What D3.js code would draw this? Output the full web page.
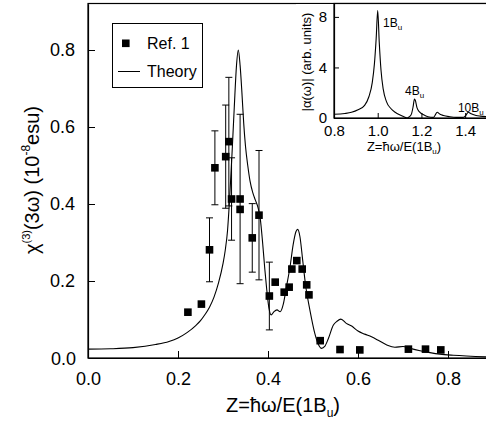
<!DOCTYPE html>
<html><head><meta charset="utf-8">
<script src="https://cdn.jsdelivr.net/npm/d3@7"></script>
<style>body{margin:0;background:#fff}svg{display:block}text{font-family:"Liberation Sans",Arial,Helvetica,sans-serif;fill:#000}</style>
</head><body>
<svg id="c" width="486" height="424"></svg>
<script>
// ---- data ----
const expX   = [0.222,0.252,0.270,0.282,0.306,0.313,0.319,0.338,0.338,0.365,0.380,0.403,0.416,0.436,0.447,0.453,0.464,0.476,0.486,0.491,0.516,0.560,0.604,0.712,0.750,0.784];
const expY   = [0.119,0.140,0.281,0.494,0.523,0.562,0.413,0.413,0.386,0.312,0.371,0.161,0.197,0.171,0.184,0.231,0.253,0.231,0.190,0.164,0.045,0.022,0.021,0.023,0.023,0.021];
const expErr = [0,0,0.083,0.096,0.134,0.167,0.107,0.22,0,0.089,0.168,0.088,0,0,0,0,0,0,0,0,0,0,0,0,0,0];
const theoryX = [0,0.05,0.10,0.15,0.18,0.20,0.22,0.24,0.25,0.26,0.27,0.28,0.29,0.30,0.305,0.31,0.315,0.32,0.325,0.33,0.334,0.338,0.342,0.346,0.350,0.355,0.360,0.366,0.372,0.378,0.383,0.388,0.393,0.397,0.402,0.407,0.413,0.420,0.427,0.434,0.441,0.449,0.456,0.462,0.466,0.471,0.477,0.484,0.493,0.504,0.512,0.519,0.526,0.534,0.545,0.553,0.562,0.574,0.586,0.600,0.615,0.630,0.645,0.664,0.682,0.700,0.716,0.738,0.760,0.782,0.812,0.841,0.884,0.92];
const theoryY = [0.023,0.024,0.027,0.035,0.043,0.052,0.066,0.085,0.097,0.113,0.132,0.158,0.195,0.245,0.28,0.33,0.42,0.53,0.65,0.76,0.80,0.76,0.69,0.61,0.55,0.50,0.46,0.43,0.41,0.39,0.36,0.30,0.23,0.18,0.13,0.112,0.12,0.125,0.12,0.14,0.185,0.237,0.295,0.328,0.334,0.315,0.255,0.185,0.125,0.064,0.035,0.025,0.03,0.05,0.085,0.095,0.101,0.09,0.083,0.07,0.062,0.055,0.046,0.034,0.028,0.030,0.025,0.019,0.014,0.010,0.007,0.005,0.003,0.002];
const insetX = [0.80,0.85,0.88,0.91,0.94,0.96,0.975,0.985,0.993,1.0,1.007,1.015,1.025,1.04,1.06,1.08,1.10,1.12,1.135,1.145,1.155,1.162,1.168,1.172,1.18,1.19,1.21,1.23,1.255,1.262,1.272,1.285,1.30,1.33,1.36,1.39,1.40,1.415,1.425,1.45,1.47,1.50];
const insetY = [0.30,0.36,0.45,0.65,1.0,1.7,2.8,4.3,6.3,8.5,6.0,3.8,2.3,1.3,0.75,0.45,0.25,0.1,0.0,0.1,0.35,0.9,1.5,1.4,0.8,0.5,0.25,0.1,0.05,0.2,0.45,0.3,0.2,0.1,0.05,0.05,0.15,0.45,0.35,0.2,0.15,0.1];
const mainXTicks = [0.0,0.2,0.4,0.6,0.8];
const mainYTicks = [0.0,0.2,0.4,0.6,0.8];
const insetXTicks = [0.8,1.0,1.2,1.4];
const insetYTicks = [0,4,8];
const legendLabels = ["Ref. 1","Theory"];
const peakLabels = [{t:"1B",x:1.024,y:7.2},{t:"4B",x:1.125,y:1.85},{t:"10B",x:1.367,y:0.5}];

const svg = d3.select("#c");
const fmt = d3.format(".1f");

// ---- main plot ----
const x = d3.scaleLinear().domain([0,0.9]).range([88,493]);
const y = d3.scaleLinear().domain([0,0.92]).range([358,3.8]);

svg.append("rect").attr("x",88).attr("y",3.5).attr("width",500).attr("height",354.5)
  .attr("fill","none").attr("stroke","#000").attr("stroke-width",1.2);

const gx = svg.append("g").attr("transform","translate(0,358)")
  .call(d3.axisBottom(x).tickValues(mainXTicks).tickFormat(fmt).tickSizeInner(-7).tickSizeOuter(0).tickPadding(14));
const gy = svg.append("g").attr("transform","translate(88,0)")
  .call(d3.axisLeft(y).tickValues(mainYTicks.slice(1)).tickFormat(fmt).tickSizeInner(-7).tickSizeOuter(0).tickPadding(13));
[gx,gy].forEach(g=>{g.select(".domain").attr("stroke","#000").attr("stroke-width",1.2);
  g.selectAll("line").attr("stroke","#000");
  g.selectAll("text").style("font-size","18px").attr("fill","#000");});
// y zero label
svg.append("text").attr("x",x(0)-12).attr("y",y(0)+7).attr("text-anchor","end").style("font-size","18px").text(fmt(mainYTicks[0]));

// theory line
const line = d3.line().x((d,i)=>x(theoryX[i])).y((d,i)=>y(theoryY[i])).curve(d3.curveMonotoneX);
svg.append("path").datum(theoryX).attr("d",line).attr("fill","none").attr("stroke","#000").attr("stroke-width",1.1);

// error bars
const eb = svg.append("g").attr("stroke","#000").attr("stroke-width",1);
expX.forEach((xv,i)=>{ if(!expErr[i]) return;
  const cx=x(xv), y1=y(expY[i]+expErr[i]), y2=y(expY[i]-expErr[i]);
  eb.append("line").attr("x1",cx).attr("x2",cx).attr("y1",y1).attr("y2",y2);
  eb.append("line").attr("x1",cx-3.5).attr("x2",cx+3.5).attr("y1",y1).attr("y2",y1);
  eb.append("line").attr("x1",cx-3.5).attr("x2",cx+3.5).attr("y1",y2).attr("y2",y2);
});
svg.append("g").selectAll("rect").data(expX).join("rect")
  .attr("x",d=>x(d)-3.8).attr("y",(d,i)=>y(expY[i])-3.8).attr("width",7.6).attr("height",7.6).attr("fill","#000");

// legend
svg.append("rect").attr("x",112.5).attr("y",23.5).attr("width",90).attr("height",64).attr("fill","#fff").attr("stroke","#000");
svg.append("rect").attr("x",122).attr("y",39.5).attr("width",7.6).attr("height",7.6).attr("fill","#000");
svg.append("line").attr("x1",118).attr("x2",140).attr("y1",71.5).attr("y2",71.5).attr("stroke","#000");
svg.append("text").attr("x",147).attr("y",49).style("font-size","16px").text(legendLabels[0]);
svg.append("text").attr("x",147).attr("y",77).style("font-size","16px").text(legendLabels[1]);

// axis titles
const xt = svg.append("text").attr("x",283).attr("y",412).attr("text-anchor","middle").style("font-size","20px");
xt.append("tspan").text("Z=ħω/E(1B");
xt.append("tspan").attr("dy",5).style("font-size","12px").text("u");
xt.append("tspan").attr("dy",-5).text(")");
const yt = svg.append("text").attr("transform","translate(39,180) rotate(-90)").attr("text-anchor","middle").style("font-size","20px");
yt.append("tspan").text("χ");
yt.append("tspan").attr("dy",-9).style("font-size","11px").text("(3)");
yt.append("tspan").attr("dy",9).text("(3ω) (10");
yt.append("tspan").attr("dy",-9).style("font-size","12px").text("-8");
yt.append("tspan").attr("dy",9).text("esu)");

// ---- inset ----
const ix = d3.scaleLinear().domain([0.8,1.5]).range([334,487]);
const iy = d3.scaleLinear().domain([0,9.1]).range([118,3]);
svg.append("rect").attr("x",296).attr("y",4).attr("width",190).attr("height",154).attr("fill","#fff");
svg.append("rect").attr("x",334).attr("y",3.5).attr("width",160).attr("height",114.5).attr("fill","none").attr("stroke","#000").attr("stroke-width",1.2);
const igx = svg.append("g").attr("transform","translate(0,118)")
  .call(d3.axisBottom(ix).tickValues(insetXTicks).tickFormat(fmt).tickSizeInner(-5).tickSizeOuter(0).tickPadding(7));
const igy = svg.append("g").attr("transform","translate(334,0)")
  .call(d3.axisLeft(iy).tickValues(insetYTicks).tickFormat(d3.format("d")).tickSizeInner(-5).tickSizeOuter(0).tickPadding(7));
[igx,igy].forEach(g=>{g.select(".domain").attr("stroke","#000").attr("stroke-width",1.2);
  g.selectAll("line").attr("stroke","#000");
  g.selectAll("text").style("font-size","15px").attr("fill","#000");});
const iline = d3.line().x((d,i)=>ix(insetX[i])).y((d,i)=>iy(insetY[i])).curve(d3.curveMonotoneX);
svg.append("path").datum(insetX).attr("d",iline).attr("fill","none").attr("stroke","#000").attr("stroke-width",1.1);
peakLabels.forEach(p=>{
  const t = svg.append("text").attr("x",ix(p.x)).attr("y",iy(p.y)).style("font-size","12px");
  t.append("tspan").text(p.t);
  t.append("tspan").attr("dy",3).style("font-size","8px").text("u");
});
const ixt = svg.append("text").attr("x",404).attr("y",151).attr("text-anchor","middle").style("font-size","13px");
ixt.append("tspan").text("Z=ħω/E(1B");
ixt.append("tspan").attr("dy",3).style("font-size","8px").text("u");
ixt.append("tspan").attr("dy",-3).text(")");
svg.append("text").attr("transform","translate(311,62) rotate(-90)").attr("text-anchor","middle").style("font-size","13px").text("|α(ω)| (arb. units)");
</script>
</body></html>
